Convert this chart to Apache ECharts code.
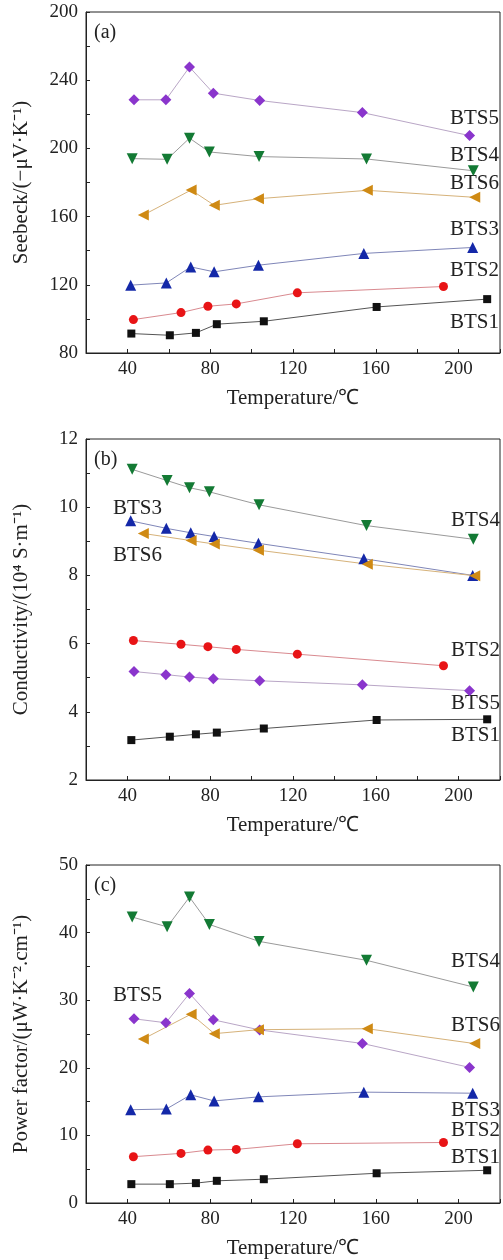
<!DOCTYPE html>
<html style="height: 100%">
<head>
<meta charset="utf-8">
<title>BTS thermoelectric properties</title>
</head>
<body style="height: 100%; margin: 0; background: #fff">
<div id="container" style="width: 503px; height: 1260px"></div>
<script type="text/javascript" src="https://cdn.jsdelivr.net/npm/echarts@6/dist/echarts.min.js"></script>
<script type="text/javascript">
// sample names and drawing style per sample
var names = ['BTS1', 'BTS2', 'BTS3', 'BTS4', 'BTS5', 'BTS6'];
var markColor = ['#111111', '#e81416', '#1428a8', '#137a34', '#8a35cc', '#cf8a14'];
var lineColor = ['#555555', '#d98a90', '#7f86b8', '#9a9a9a', '#b9a6c6', '#d6b27a'];
var symbols = ['rect', 'circle', 'triangle', 'triangle', 'diamond', 'triangle'];
var rotates = [0, 0, 0, 180, 0, 90];
var sizes = [8, 9, 11, 11, 11, 11];

// temperatures (degC) of each sample's measurements
var tBTS1 = [41.9, 60.5, 73.1, 83.2, 105.9, 160.4, 213.8];
var tBTS2 = [42.9, 65.9, 78.9, 92.6, 122.1, 192.7];
var tBTS3 = [41.6, 58.8, 70.6, 81.9, 103.3, 154.2, 206.8];
var tBTS4 = [42.3, 59.2, 70.0, 79.6, 103.6, 155.5, 207.1];
var tBTS5 = [43.2, 58.6, 70.0, 81.5, 103.9, 153.5, 205.3];
var tBTS6 = [47.7, 70.8, 82.0, 103.3, 155.9, 207.8];
var temps = [tBTS1, tBTS2, tBTS3, tBTS4, tBTS5, tBTS6];

// (a) Seebeck coefficient, -uV/K
var seebeck = [
    [91.4, 90.4, 91.8, 96.9, 98.6, 107, 111.6],
    [99.6, 103.7, 107.4, 108.8, 115.3, 119],
    [119.8, 121.1, 130.5, 127.6, 131.5, 138.4, 141.9],
    [194, 193.6, 206, 197.9, 195.2, 193.8, 186.9],
    [228.5, 228.5, 247.7, 232.4, 228.1, 221, 207.5],
    [160.9, 175.6, 166.6, 170.5, 175.4, 171.3]
];
// (b) electrical conductivity, 10^4 S/m
var conductivity = [
    [3.17, 3.27, 3.34, 3.39, 3.51, 3.76, 3.78],
    [6.09, 5.98, 5.91, 5.83, 5.69, 5.35],
    [9.6, 9.38, 9.25, 9.14, 8.94, 8.49, 8.0],
    [11.11, 10.78, 10.57, 10.45, 10.07, 9.46, 9.06],
    [5.18, 5.09, 5.02, 4.97, 4.91, 4.79, 4.62],
    [9.23, 9.02, 8.92, 8.74, 8.33, 7.99]
];
// (c) power factor, uW/(K^2 cm)
var powerFactor = [
    [2.79, 2.79, 2.94, 3.28, 3.52, 4.4, 4.84],
    [6.85, 7.34, 7.83, 7.93, 8.76, 8.95],
    [13.8, 13.9, 16.0, 15.1, 15.7, 16.4, 16.24],
    [42.3, 40.85, 45.25, 41.2, 38.7, 35.9, 31.95],
    [27.25, 26.66, 31.0, 27.1, 25.6, 23.6, 20.06],
    [24.27, 27.94, 25.05, 25.64, 25.78, 23.58]
];

var panels = [
    {tag: '(a)', values: seebeck, yName: 'Seebeck/(−μV·K⁻¹)', min: 80, max: 280, step: 20, every: 40},
    {tag: '(b)', values: conductivity, yName: 'Conductivity/(10⁴ S·m⁻¹)', min: 2, max: 12, step: 1, every: 2},
    {tag: '(c)', values: powerFactor, yName: 'Power factor/(μW·K⁻².cm⁻¹)', min: 0, max: 50, step: 5, every: 10}
];

// text labels placed next to the curves, [panel, name, x, y, align]
var curveLabels = [
    [0, 'BTS5', 499, 118, 'right'], [0, 'BTS4', 499, 155, 'right'], [0, 'BTS6', 499, 183, 'right'],
    [0, 'BTS3', 499, 229, 'right'], [0, 'BTS2', 499, 270, 'right'], [0, 'BTS1', 499, 322, 'right'],
    [1, 'BTS3', 113, 508, 'left'], [1, 'BTS6', 113, 555, 'left'], [1, 'BTS4', 500, 520, 'right'],
    [1, 'BTS2', 500, 650, 'right'], [1, 'BTS5', 500, 703, 'right'], [1, 'BTS1', 500, 735, 'right'],
    [2, 'BTS4', 500, 961, 'right'], [2, 'BTS5', 113, 995, 'left'], [2, 'BTS6', 500, 1025, 'right'],
    [2, 'BTS3', 500, 1110, 'right'], [2, 'BTS2', 500, 1130, 'right'], [2, 'BTS1', 500, 1157, 'right']
];

var font = 'Liberation Serif';
var tops = [12, 439, 865];

var grid = [], xAxis = [], yAxis = [], series = [], graphic = [];
panels.forEach(function (p, k) {
    grid.push({left: 86, right: 2, top: tops[k], height: 341, show: true,
        borderColor: '#222', borderWidth: 1, backgroundColor: 'transparent'});
    xAxis.push({
        type: 'value', gridIndex: k, min: 20, max: 220, interval: 20,
        name: 'Temperature/℃', nameLocation: 'middle', nameGap: 35,
        nameTextStyle: {fontFamily: font, fontSize: 21, color: '#222'},
        axisLine: {lineStyle: {color: '#222'}},
        axisTick: {inside: true, length: 4, lineStyle: {color: '#222'}},
        splitLine: {show: false},
        axisLabel: {
            fontFamily: font, fontSize: 19, color: '#222', margin: 7, interval: 0,
            formatter: function (v) { return (v % 40 === 0 && v >= 40 && v <= 200) ? String(v) : ''; }
        }
    });
    yAxis.push({
        type: 'value', gridIndex: k, min: p.min, max: p.max, interval: p.step,
        name: p.yName, nameLocation: 'middle', nameGap: 54, nameRotate: 90,
        nameTextStyle: {fontFamily: font, fontSize: 21, color: '#222'},
        axisLine: {lineStyle: {color: '#222'}},
        axisTick: {inside: true, length: 4, lineStyle: {color: '#222'}},
        splitLine: {show: false},
        axisLabel: {
            fontFamily: font, fontSize: 19, color: '#222', margin: 8, interval: 0,
            formatter: function (v) {
                if ((v - p.min) % p.every !== 0) return '';
                // the top label of panel (a) reads 200 in the original figure
                if (k === 0 && v === 280) return '200';
                return String(v);
            }
        }
    });
    p.values.forEach(function (vals, i) {
        series.push({
            name: names[i] + ' ' + p.tag, type: 'line', xAxisIndex: k, yAxisIndex: k,
            data: vals.map(function (v, j) { return [temps[i][j], v]; }),
            symbol: symbols[i], symbolSize: sizes[i], symbolRotate: rotates[i],
            showAllSymbol: true,
            itemStyle: {color: markColor[i]},
            lineStyle: {color: lineColor[i], width: 1},
            z: 3
        });
    });
    graphic.push({type: 'text', left: 94, top: tops[k] + 11,
        style: {text: p.tag, fontFamily: font, fontSize: 20, fill: '#222'}});
});

curveLabels.forEach(function (c) {
    graphic.push({
        type: 'text', x: c[2], y: c[3],
        style: {text: c[1], fontFamily: font, fontSize: 21, fill: '#222',
            textAlign: c[4], textVerticalAlign: 'middle'}
    });
});

var myChart = echarts.init(document.getElementById('container'));
var option = {
    animation: false,
    backgroundColor: '#fff',
    grid: grid,
    xAxis: xAxis,
    yAxis: yAxis,
    series: series,
    graphic: graphic
};
myChart.setOption(option);
</script>
</body>
</html>
